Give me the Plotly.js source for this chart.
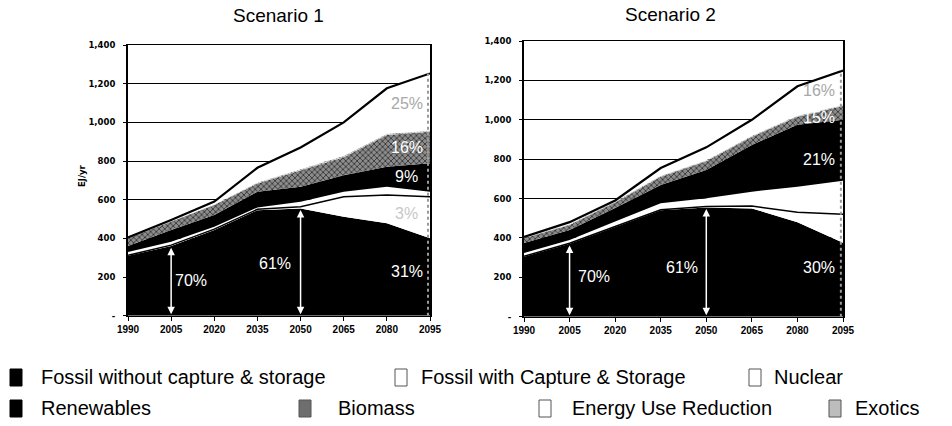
<!DOCTYPE html>
<html><head><meta charset="utf-8">
<script src="https://cdn.plot.ly/plotly-3.0.1.min.js"></script>
<style>html,body{margin:0;padding:0;background:#fff;}#chart{width:952px;height:426px;}</style>
</head><body><div id="chart"></div>
<script>
// ---- data (EJ/yr) ----
const years = [1990, 2005, 2020, 2035, 2050, 2065, 2080, 2095];
const yearLabels = ['1990', '2005', '2020', '2035', '2050', '2065', '2080', '2095'];
const yTickVals = [0, 200, 400, 600, 800, 1000, 1200, 1400];
const yTickText = ['-', '200', '400', '600', '800', '1,000', '1,200', '1,400'];
const seriesNames = ['Fossil without capture & storage', 'Fossil with Capture & Storage', 'Nuclear',
  'Renewables', 'Biomass', 'Energy Use Reduction', 'Exotics'];

// Scenario 1
const s1Fossil     = [310, 360, 443, 546, 555, 512, 478, 400];
const s1FossilCCS  = [2, 5, 5, 4, 8, 103, 146, 215];
const s1Nuclear    = [18, 18, 12, 10, 26, 26, 43, 26];
const s1Renewables = [30, 60, 61, 81, 78, 86, 103, 147];
const s1Biomass    = [40, 45, 51, 43, 86, 93, 164, 163];
const s1Exotics    = [2, 2, 3, 5, 6, 7, 7, 7];
const s1Reduction  = [3, 5, 15, 76, 111, 173, 235, 295];

// Scenario 2
const s2Fossil     = [305, 370, 455, 540, 555, 550, 480, 375];
const s2FossilCCS  = [2, 3, 3, 3, 5, 12, 50, 145];
const s2Nuclear    = [16, 17, 25, 33, 41, 73, 130, 170];
const s2Renewables = [51, 50, 69, 93, 144, 237, 315, 310];
const s2Biomass    = [24, 26, 28, 42, 45, 42, 40, 70];
const s2Exotics    = [3, 3, 5, 5, 5, 5, 5, 5];
const s2Reduction  = [4, 11, 5, 39, 65, 81, 150, 175];

// share labels
const s1Shares = {y2005: '70%', y2050: '61%', fossil: '31%', ccs: '3%', renew: '9%', biomass: '16%', reduction: '25%'};
const s2Shares = {y2005: '70%', y2050: '61%', fossil: '30%', renew: '21%', biomass: '15%', reduction: '16%'};

// ---- styles ----
const styles = [
  {fillcolor: '#000', line: {width: 0, color: '#000'}},
  {fillcolor: '#fff', line: {width: 1.5, color: '#000'}},
  {fillcolor: '#fff', line: {width: 0, color: '#fff'}},
  {fillcolor: '#000', line: {width: 0, color: '#000'}},
  {fillcolor: '#777', line: {width: 0, color: '#777'}, fillpattern: {shape: 'x', bgcolor: '#8c8c8c', fgcolor: '#2a2a2a', size: 4, solidity: 0.35}},
  {fillcolor: '#fff', line: {width: 2.2, color: '#000'}},
  {fillcolor: '#ccc', line: {width: 0, color: '#ccc'}, fillpattern: {shape: '.', bgcolor: '#ddd', fgcolor: '#888', size: 3, solidity: 0.4}}
];

function buildTraces(series, xa, ya, group) {
  // stacking order bottom -> top: fossil, CCS, nuclear, renewables, biomass, exotics, reduction
  const order = [0, 1, 2, 3, 4, 6, 5];
  return order.map(i => Object.assign({
    type: 'scatter', mode: 'lines', x: years, y: series[i], name: seriesNames[i],
    stackgroup: group, xaxis: xa, yaxis: ya, showlegend: false, hoverinfo: 'skip'
  }, JSON.parse(JSON.stringify(styles[i]))));
}

const s1 = [s1Fossil, s1FossilCCS, s1Nuclear, s1Renewables, s1Biomass, s1Reduction, s1Exotics];
const s2 = [s2Fossil, s2FossilCCS, s2Nuclear, s2Renewables, s2Biomass, s2Reduction, s2Exotics];
const data = buildTraces(s1, 'x', 'y', 'a').concat(buildTraces(s2, 'x2', 'y2', 'b'));

function cum(series, n, idx) { let s = 0; for (let k = 0; k < n; k++) s += series[k][idx]; return s; }

const W = 952, H = 426;
const px = v => v / W, py = v => (H - v) / H;

const xTickFont = {family: 'Liberation Sans Narrow, Arial Narrow, sans-serif', size: 10, color: '#000', weight: 'bold'};
const yTickFont = {family: 'DejaVu Sans, sans-serif', size: 8.5, color: '#000', weight: 'bold'};

function xAxis(domain, anchor) {
  return {domain: domain, anchor: anchor, range: [1990, 2095], tickvals: years, ticktext: yearLabels,
    ticks: 'outside', ticklen: 4, tickcolor: '#000', showline: true, linecolor: '#000', linewidth: 1.5,
    mirror: true, showgrid: false, zeroline: false, tickfont: xTickFont, fixedrange: true};
}
function yAxis(domain, anchor) {
  return {domain: domain, anchor: anchor, range: [0, 1400], tickvals: yTickVals, ticktext: yTickText,
    ticks: 'outside', ticklen: 3, tickcolor: '#000', showline: true, linecolor: '#000', linewidth: 2,
    mirror: true, showgrid: true, gridcolor: '#000', gridwidth: 1, zeroline: false,
    tickfont: yTickFont, ticklabelstandoff: 6, fixedrange: true};
}

const pctFont = {family: 'Liberation Sans, Arial, sans-serif', size: 16, color: '#fff'};
const annotations = [];
function pct(text, x, y, xr, yr, color) {
  annotations.push({text: text, x: x, y: y, xref: xr, yref: yr, showarrow: false,
    xanchor: 'center', yanchor: 'middle',
    font: Object.assign({}, pctFont, color ? {color: color} : {})});
}
function dblArrow(x, top, xr, yr) {
  annotations.push({text: '', x: x, y: top, ax: x, ay: 0, xref: xr, yref: yr, axref: xr, ayref: yr,
    showarrow: true, arrowhead: 2, startarrowhead: 2, arrowside: 'end+start', arrowsize: 1,
    arrowwidth: 1.5, arrowcolor: '#fff', standoff: 0, startstandoff: 0});
}
// scenario 1 labels
dblArrow(2005, s1Fossil[1] - 8, 'x', 'y');
dblArrow(2050, s1Fossil[4] - 8, 'x', 'y');
pct(s1Shares.y2005, 2012, 181, 'x', 'y');
pct(s1Shares.y2050, 2041, 272, 'x', 'y');
pct(s1Shares.fossil, 2087, 228, 'x', 'y');
pct(s1Shares.ccs, 2087, 531, 'x', 'y', '#c8c8c8');
pct(s1Shares.renew, 2087, 719, 'x', 'y');
pct(s1Shares.biomass, 2087, 872, 'x', 'y');
pct(s1Shares.reduction, 2087, 1098, 'x', 'y', '#a8a8a8');
// scenario 2 labels
dblArrow(2005, s2Fossil[1] - 8, 'x2', 'y2');
dblArrow(2050, s2Fossil[4] - 8, 'x2', 'y2');
pct(s2Shares.y2005, 2013, 203, 'x2', 'y2');
pct(s2Shares.y2050, 2042, 251, 'x2', 'y2');
pct(s2Shares.fossil, 2087, 250, 'x2', 'y2');
pct(s2Shares.renew, 2087, 800, 'x2', 'y2');
pct(s2Shares.biomass, 2087, 1012, 'x2', 'y2');
pct(s2Shares.reduction, 2087, 1150, 'x2', 'y2', '#a8a8a8');

function paperText(text, x, y, size, extra) {
  annotations.push(Object.assign({text: text, x: px(x), y: py(y), xref: 'paper', yref: 'paper', showarrow: false,
    xanchor: 'center', yanchor: 'middle',
    font: {family: 'Liberation Sans, Arial, sans-serif', size: size, color: '#000'}}, extra || {}));
}
// titles
paperText('Scenario 1', 278, 16, 19);
paperText('Scenario 2', 670, 15, 19);
paperText('EJ/yr', 82, 176, 8.5, {textangle: -90,
  font: {family: 'DejaVu Sans, sans-serif', size: 8.5, color: '#000', weight: 'bold'}});

// dotted right-edge markers
const shapes = [];
[[cum(s1, 7, 7), 'x', 'y'], [cum(s2, 7, 7), 'x2', 'y2']].forEach(([top, xr, yr]) => {
  shapes.push({type: 'line', xref: xr, yref: yr, x0: 2094.3, x1: 2094.3, y0: 0, y1: top,
    line: {color: '#9a9a9a', width: 2, dash: 'dot'}});
});

// custom legend
const legendFills = ['#000', '#fff', '#fff', '#000', '#6e6e6e', '#fff', '#bdbdbd'];
const legendPos = [[10, 377, 39], [395, 377, 419], [749, 377, 772], [10, 408, 39], [299, 408, 336], [539, 408, 570], [829, 408, 853]];
seriesNames.forEach((name, i) => {
  const [lx, ly, tx] = legendPos[i];
  shapes.push({type: 'rect', xref: 'paper', yref: 'paper', x0: px(lx), x1: px(lx + 12), y0: py(ly + 9), y1: py(ly - 8),
    fillcolor: legendFills[i], line: {color: i === 0 || i === 3 ? '#000' : '#555', width: 1}});
  paperText(name, tx, ly, 20, {xanchor: 'left'});
});

const layout = {
  width: W, height: H, margin: {l: 0, r: 0, t: 0, b: 0}, paper_bgcolor: '#fff', plot_bgcolor: '#fff',
  showlegend: false,
  xaxis: xAxis([px(128), px(430)], 'y'),
  yaxis: yAxis([py(315.7), py(45)], 'x'),
  xaxis2: xAxis([px(524), px(843)], 'y2'),
  yaxis2: yAxis([py(316.7), py(41)], 'x2'),
  annotations: annotations, shapes: shapes
};
Plotly.newPlot('chart', data, layout, {displayModeBar: false, staticPlot: true});
</script></body></html>
